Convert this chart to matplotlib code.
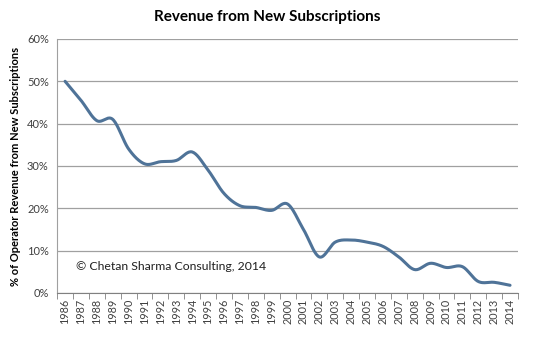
import numpy as np
import matplotlib.pyplot as plt

plt.rcParams['font.family'] = ['Lato', 'DejaVu Sans']

years = list(range(1986, 2015))
share = [50.0, 45.5, 40.7, 41.0, 34.0, 30.5, 31.0, 31.3, 33.3, 29.0,
         23.5, 20.6, 20.2, 19.5, 21.0, 15.0, 8.5, 12.0, 12.5, 12.0,
         11.0, 8.5, 5.5, 7.0, 6.0, 6.2, 2.7, 2.5, 1.8]


def smooth(x, y, n=20):
    # Catmull-Rom style smoothing, like Excel's smoothed line
    x = np.asarray(x, float)
    y = np.asarray(y, float)
    px = np.concatenate([[2 * x[0] - x[1]], x, [2 * x[-1] - x[-2]]])
    py = np.concatenate([[2 * y[0] - y[1]], y, [2 * y[-1] - y[-2]]])
    xs, ys = [], []
    t = np.linspace(0, 1, n, endpoint=False)
    for i in range(1, len(px) - 2):
        for p, out in ((px, xs), (py, ys)):
            p0, p1, p2, p3 = p[i - 1], p[i], p[i + 1], p[i + 2]
            out.extend(0.5 * (2 * p1 + (-p0 + p2) * t
                              + (2 * p0 - 5 * p1 + 4 * p2 - p3) * t ** 2
                              + (-p0 + 3 * p1 - 3 * p2 + p3) * t ** 3))
    xs.append(x[-1])
    ys.append(y[-1])
    return np.array(xs), np.array(ys)


fig = plt.figure(figsize=(5.34, 3.39), dpi=100)
ax = fig.add_axes([0.107, 0.136, 0.863, 0.749])

pos = np.arange(len(years))
sx, sy = smooth(pos, share)
ax.plot(sx, sy, color='#4f7398', lw=2.2, solid_capstyle='round')

ax.set_xlim(-0.5, len(years) - 0.5)
ax.set_ylim(0, 60)
ax.set_yticks(range(0, 61, 10))
ax.set_yticklabels([f'{v}%' for v in range(0, 61, 10)], fontsize=8, color='#404040')
ax.yaxis.grid(True, color='#a0a0a0', lw=0.9)
ax.set_axisbelow(True)

ax.set_xticks(pos)
ax.set_xticklabels([str(y) for y in years], rotation=90, fontsize=7.8, color='#404040')
ax.set_xticks(np.arange(-0.5, len(years)), minor=True)
ax.tick_params(axis='x', which='major', length=0, pad=4)
ax.tick_params(axis='x', which='minor', length=4, color='#808080', direction='out')
ax.tick_params(axis='y', length=0, pad=6)

for s in ['top', 'right']:
    ax.spines[s].set_visible(False)
ax.spines['left'].set_color('#a0a0a0')
ax.spines['bottom'].set_color('#808080')

ax.set_ylabel('% of Operator Revenue from New Subscriptions', fontsize=8,
              fontweight='bold', labelpad=4)
fig.suptitle('Revenue from New Subscriptions', fontsize=11, fontweight='bold', y=0.97)
ax.text(0.04, 0.09, '\u00a9 Chetan Sharma Consulting, 2014', transform=ax.transAxes,
        fontsize=8.8, color='#202020')

fig.savefig('out.png', dpi=100)
